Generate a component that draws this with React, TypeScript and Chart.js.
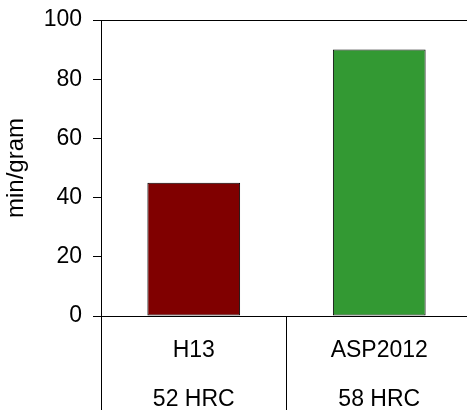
import React, { useEffect, useRef } from "react";
import { Chart, registerables } from "chart.js";

Chart.register(...registerables);

const categories: string[][] = [
  ["H13", "52 HRC"],
  ["ASP2012", "58 HRC"],
];
const values: number[] = [45, 90];
const barColors: string[] = ["#800000", "#339933"];
const yTicks: number[] = [0, 20, 40, 60, 80, 100];
const yTitle = "min/gram";

const FONT = "'Liberation Sans', Arial, sans-serif";

export default function App() {
  const ref = useRef<HTMLCanvasElement | null>(null);

  useEffect(() => {
    if (!ref.current) return;
    const chart = new Chart(ref.current, {
      type: "bar",
      data: {
        labels: categories,
        datasets: [
          {
            data: values,
            backgroundColor: barColors,
            borderColor: "#000000",
            borderWidth: 1,
            borderSkipped: false,
            categoryPercentage: 1,
            barPercentage: 0.5,
          },
        ],
      },
      options: {
        responsive: false,
        animation: false,
        devicePixelRatio: 1,
        layout: { padding: { top: 20, left: 0, right: 0, bottom: 0 } },
        plugins: {
          legend: { display: false },
          tooltip: { enabled: false },
        },
        scales: {
          x: {
            offset: true,
            grid: {
              offset: true,
              drawOnChartArea: false,
              drawTicks: true,
              tickLength: 94,
              color: "#000000",
              tickColor: "#000000",
              lineWidth: 1,
            },
            border: { display: true, color: "#000000", width: 1 },
            ticks: {
              color: "#000000",
              padding: -84,
              maxRotation: 0,
              autoSkip: false,
              font: { family: FONT, size: 23, lineHeight: 2.13 },
            },
            afterFit: (scale: any) => {
              scale.height = 94;
            },
          },
          y: {
            min: 0,
            max: 100,
            afterBuildTicks: (scale: any) => {
              scale.ticks = yTicks.map((v) => ({ value: v }));
            },
            grid: {
              drawOnChartArea: true,
              drawTicks: true,
              tickLength: 8,
              color: (ctx: any) =>
                ctx.tick && ctx.tick.value === 100 ? "#000000" : "rgba(0,0,0,0)",
              tickColor: "#000000",
              lineWidth: 1,
            },
            border: { display: true, color: "#000000", width: 1 },
            ticks: {
              color: "#000000",
              padding: 11,
              font: { family: FONT, size: 23 },
            },
            title: {
              display: true,
              text: yTitle,
              color: "#000000",
              padding: { top: 2, bottom: 0 },
              font: { family: FONT, size: 24 },
            },
            afterFit: (scale: any) => {
              scale.width = 101;
              scale.paddingTop = 0;
              scale.paddingBottom = 0;
            },
          },
        },
      },
    });
    return () => chart.destroy();
  }, []);

  return (
    <div
      style={{
        position: "fixed",
        left: 0,
        top: 0,
        width: 467,
        height: 410,
        overflow: "hidden",
        background: "#ffffff",
      }}
    >
      <canvas ref={ref} width={472} height={410} style={{ display: "block" }} />
    </div>
  );
}
